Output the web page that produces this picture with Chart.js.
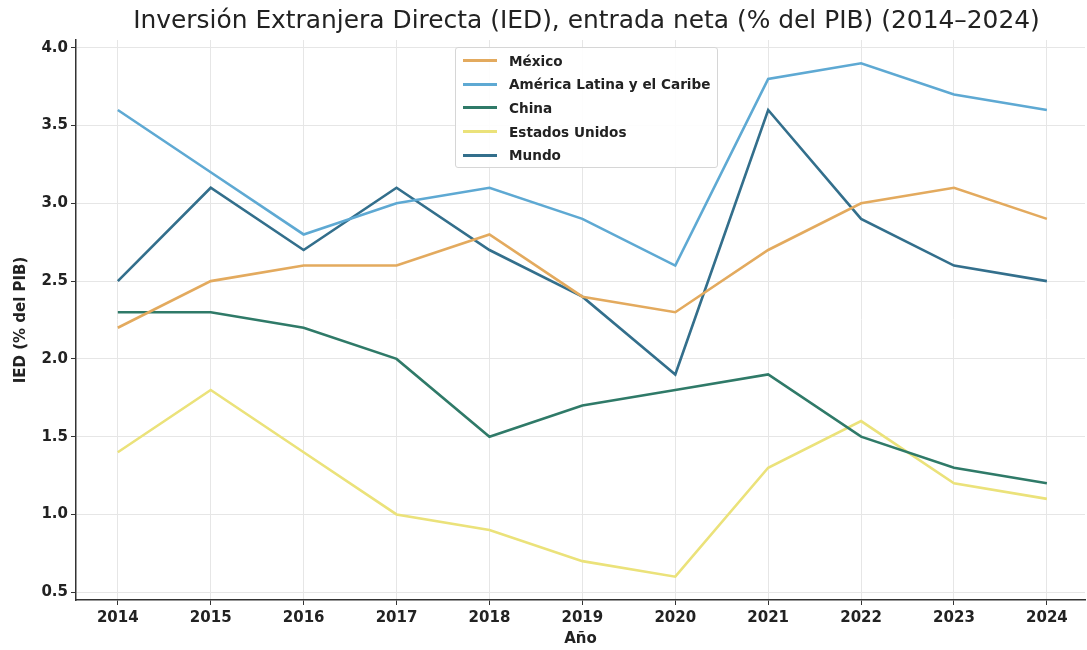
<!DOCTYPE html>
<html>
<head>
<meta charset="utf-8">
<script src="https://cdn.jsdelivr.net/npm/chart.js@4.4.1/dist/chart.umd.min.js"></script>
<style>
  html, body { margin: 0; padding: 0; background: #fff; }
  #wrap { position: relative; width: 1087px; height: 650px; }
  #legend {
    position: absolute; left: 455px; top: 47px; width: 263px; height: 121px;
    background: rgba(255,255,255,0.9); border: 1px solid #d6d6d6; border-radius: 3px;
    font-family: 'DejaVu Sans', sans-serif; font-weight: bold; font-size: 13.6px; color: #222;
    box-sizing: border-box; padding-top: 1px; white-space: nowrap;
  }
  .item { display: flex; align-items: center; height: 23.6px; }
  .swatch { width: 34px; height: 3px; margin-left: 7px; margin-right: 12px; flex: none; }
</style>
</head>
<body>
<div id="wrap">
  <canvas id="chart" width="1087" height="650"></canvas>
  <div id="legend"></div>
</div>
<script>
// Datos
const years = [2014, 2015, 2016, 2017, 2018, 2019, 2020, 2021, 2022, 2023, 2024];
const mexico = [2.2, 2.5, 2.6, 2.6, 2.8, 2.4, 2.3, 2.7, 3.0, 3.1, 2.9];
const latam = [3.6, 3.2, 2.8, 3.0, 3.1, 2.9, 2.6, 3.8, 3.9, 3.7, 3.6];
const china = [2.3, 2.3, 2.2, 2.0, 1.5, 1.7, 1.8, 1.9, 1.5, 1.3, 1.2];
const usa = [1.4, 1.8, 1.4, 1.0, 0.9, 0.7, 0.6, 1.3, 1.6, 1.2, 1.1];
const mundo = [2.5, 3.1, 2.7, 3.1, 2.7, 2.4, 1.9, 3.6, 2.9, 2.6, 2.5];
const yTicks = [0.5, 1.0, 1.5, 2.0, 2.5, 3.0, 3.5, 4.0];

const titleText = 'Inversión Extranjera Directa (IED), entrada neta (% del PIB) (2014–2024)';

const series = [
  { label: 'México', data: mexico, color: '#e3aa5e' },
  { label: 'América Latina y el Caribe', data: latam, color: '#5ea9d3' },
  { label: 'China', data: china, color: '#2f7a68' },
  { label: 'Estados Unidos', data: usa, color: '#ebe27a' },
  { label: 'Mundo', data: mundo, color: '#336f8c' },
];

const font = 'DejaVu Sans';

const datasets = series.map(s => ({
  label: s.label,
  data: years.map((y, i) => ({ x: y, y: s.data[i] })),
  borderColor: s.color,
  backgroundColor: s.color,
  borderWidth: 2.6,
  pointRadius: 0,
  tension: 0,
  fill: false,
}));

// Leyenda dentro del área del gráfico
const legend = document.getElementById('legend');
series.forEach(s => {
  const row = document.createElement('div');
  row.className = 'item';
  row.innerHTML = '<span class="swatch" style="background:' + s.color + '"></span><span>' + s.label + '</span>';
  legend.appendChild(row);
});

// Título centrado sobre el área de trazado (como matplotlib)
const axesTitle = {
  id: 'axesTitle',
  afterDraw(chart) {
    const { ctx, chartArea } = chart;
    ctx.save();
    ctx.fillStyle = '#222';
    ctx.font = 'normal 24.9px "' + font + '"';
    ctx.textAlign = 'center';
    ctx.textBaseline = 'alphabetic';
    ctx.fillText(titleText, (chartArea.left + chartArea.right) / 2 + 6, 28);
    ctx.restore();
  }
};

new Chart(document.getElementById('chart'), {
  type: 'line',
  data: { datasets },
  plugins: [axesTitle],
  options: {
    responsive: false,
    animation: false,
    layout: { padding: { left: 0, right: 2, top: 40, bottom: 0 } },
    plugins: {
      legend: { display: false },
      tooltip: { enabled: false },
      title: { display: false },
    },
    scales: {
      x: {
        type: 'linear',
        min: 2013.55,
        max: 2024.41,
        afterBuildTicks: axis => { axis.ticks = years.map(v => ({ value: v })); },
        afterFit: axis => { axis.height = 50; },
        ticks: {
          color: '#222',
          font: { family: font, size: 15, weight: 'bold' },
          padding: 4,
          maxRotation: 0,
          callback: v => String(v),
        },
        grid: { color: '#e6e6e6', tickColor: '#333', tickLength: 5 },
        border: { color: '#333', width: 1.5 },
        title: {
          display: true,
          text: 'Año',
          color: '#222',
          font: { family: font, size: 15, weight: 'bold' },
          padding: { top: 0, bottom: 2 },
        },
      },
      y: {
        min: 0.45,
        max: 4.05,
        afterBuildTicks: axis => { axis.ticks = yTicks.map(v => ({ value: v })); },
        afterFit: axis => { axis.width = 76; },
        ticks: {
          color: '#222',
          font: { family: font, size: 15, weight: 'bold' },
          padding: 3,
          callback: v => v.toFixed(1),
        },
        grid: { color: '#e6e6e6', tickColor: '#333', tickLength: 5 },
        border: { color: '#333', width: 1.5 },
        title: {
          display: true,
          text: 'IED (% del PIB)',
          color: '#222',
          font: { family: font, size: 15, weight: 'bold' },
          padding: { top: 12, bottom: 2 },
        },
      },
    },
  },
});
</script>
</body>
</html>
